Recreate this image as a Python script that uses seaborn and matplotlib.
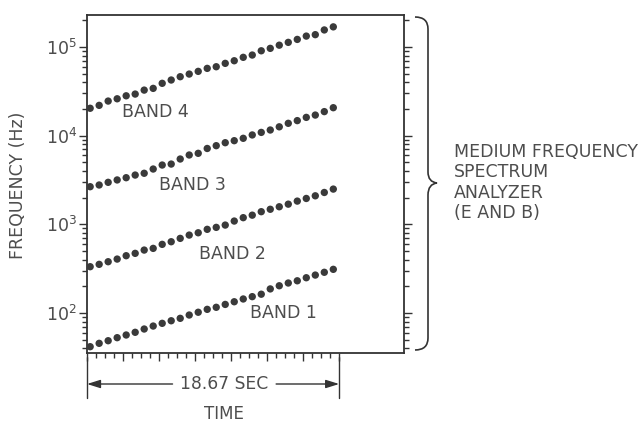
import numpy as np
import pandas as pd
import matplotlib
matplotlib.use("Agg")
import matplotlib.pyplot as plt
import matplotlib.ticker as mticker
import matplotlib.transforms as mtransforms
from matplotlib.path import Path
from matplotlib.patches import PathPatch
import seaborn as sns

# ---- data ----
sample_index = list(range(28))  # 28 sweep samples per band
band_names = ["BAND 1", "BAND 2", "BAND 3", "BAND 4"]
band1 = [41.7, 45.5, 48.7, 52.7, 56.5, 60.6, 66.0, 71.3, 76.5, 81.8, 87.1, 94.9, 102, 110,
         116, 125, 134, 144, 153, 163, 187, 203, 218, 231, 250, 268, 288, 311]
band2 = [333, 354, 379, 406, 443, 471, 513, 536, 595, 637, 695, 757, 804, 879,
         925, 982, 1090, 1190, 1270, 1390, 1480, 1580, 1690, 1830, 1960, 2100, 2290, 2500]
band3 = [2660, 2780, 2980, 3170, 3360, 3600, 3770, 4210, 4670, 4790, 5460, 6060, 6330, 7180,
         7720, 8340, 8790, 9350, 10200, 10900, 11600, 12600, 13800, 14800, 16100, 17100, 18700, 20700]
band4 = [20400, 22000, 24600, 26100, 28200, 29500, 32700, 34200, 39000, 42500, 46300, 49600, 53200, 57500,
         60000, 65500, 70100, 76600, 81300, 90800, 96700, 105000, 113000, 122000, 133000, 138000, 156000, 169000]
ytick_values = [1e2, 1e3, 1e4, 1e5]
ytick_labels = [r"$10^{2}$", r"$10^{3}$", r"$10^{4}$", r"$10^{5}$"]
duration_label = "18.67 SEC"

rows = []
for name, vals in zip(band_names, [band1, band2, band3, band4]):
    for i, v in zip(sample_index, vals):
        rows.append({"sample": i + 0.35, "freq": v, "band": name})
df = pd.DataFrame(rows)

sns.set_style("ticks")
plt.rcParams["font.family"] = ["DejaVu Sans"]
TXT = "#4d4d4d"
INK = "#333333"

W, H = 644, 422
fig = plt.figure(figsize=(W / 100, H / 100), dpi=100)
ax = fig.add_axes([87 / W, 1 - 353 / H, (404 - 87) / W, (353 - 15) / H])

sns.scatterplot(data=df, x="sample", y="freq", hue="band", palette=["#3a3a3a"] * 4,
                s=28, linewidth=0, legend=False, ax=ax, zorder=3)

ax.set_yscale("log")
ax.set_ylim(35.4, 2.3e5)
ax.set_xlim(0, 35.2)
ax.set_xlabel("")
ax.set_ylabel("")

ax.set_yticks(ytick_values)
ax.set_yticklabels(ytick_labels, fontsize=12.5, color=TXT)
ax.yaxis.set_minor_locator(mticker.LogLocator(base=10, subs=np.arange(2, 10)))
ax.yaxis.set_minor_formatter(mticker.NullFormatter())

ax.xaxis.set_major_locator(mticker.FixedLocator(list(range(0, 29, 4))))
ax.xaxis.set_minor_locator(mticker.FixedLocator(list(range(0, 29))))
ax.xaxis.set_major_formatter(mticker.NullFormatter())

ax.tick_params(axis="y", which="both", direction="out", left=True, right=True,
               labelright=False, color=INK, width=1.0)
ax.tick_params(axis="y", which="major", length=6, pad=1)
ax.tick_params(axis="y", which="minor", length=3.8)
ax.tick_params(axis="x", which="both", direction="out", bottom=True, top=False, color=INK, width=1.0)
ax.tick_params(axis="x", which="major", length=6)
ax.tick_params(axis="x", which="minor", length=3.5)

for sp in ax.spines.values():
    sp.set_visible(True)
    sp.set_color(INK)
    sp.set_linewidth(1.3)

# band labels
FS = 12.5
ax.text(7.6, 18500, "BAND 4", fontsize=FS, color=TXT, ha="center", va="center")
ax.text(11.7, 2780, "BAND 3", fontsize=FS, color=TXT, ha="center", va="center")
ax.text(16.1, 463, "BAND 2", fontsize=FS, color=TXT, ha="center", va="center")
ax.text(21.8, 100, "BAND 1", fontsize=FS, color=TXT, ha="center", va="center")

# y label
fig.text(18 / W, 1 - 185 / H, "FREQUENCY (Hz)", rotation=90, fontsize=12.5, color=TXT,
         ha="center", va="center")

# time dimension line
blend = mtransforms.blended_transform_factory(ax.transData, fig.transFigure)
ya = 1 - 384 / H
for xv in (0, 28):
    ax.plot([xv, xv], [1 - 357 / H, 1 - 398 / H], transform=blend, color=INK, lw=1.0, clip_on=False)
arrow = dict(arrowstyle="-|>,head_length=0.8,head_width=0.25", color=INK, lw=1.0,
             shrinkA=0, shrinkB=0)
ax.annotate("", xy=(0, ya), xytext=(9.5, ya), xycoords=blend, textcoords=blend, arrowprops=arrow)
ax.annotate("", xy=(28, ya), xytext=(21.0, ya), xycoords=blend, textcoords=blend, arrowprops=arrow)
ax.text(15.25, ya, duration_label, transform=blend, fontsize=12.3, color=TXT, ha="center", va="center")
ax.text(15.2, 1 - 414 / H, "TIME", transform=blend, fontsize=12, color=TXT, ha="center", va="center")

# brace on the right
def P(x, y):
    return (x / W, 1 - y / H)

verts = [P(415, 17), P(428, 17), P(428, 29), P(428, 172), P(428, 182), P(437, 183),
         P(428, 184), P(428, 195), P(428, 338), P(428, 350), P(415, 350)]
codes = [Path.MOVETO, Path.CURVE3, Path.CURVE3, Path.LINETO, Path.CURVE3, Path.CURVE3,
         Path.CURVE3, Path.CURVE3, Path.LINETO, Path.CURVE3, Path.CURVE3]
fig.patches.append(PathPatch(Path(verts, codes), transform=fig.transFigure, fill=False,
                             edgecolor=INK, lw=1.2))

for txt, yy in zip(["MEDIUM FREQUENCY", "SPECTRUM", "ANALYZER", "(E AND B)"], [152, 172, 193, 213]):
    fig.text(454 / W, 1 - yy / H, txt, fontsize=12.5, color=TXT, ha="left", va="center")

fig.savefig("out.png", dpi=100)
